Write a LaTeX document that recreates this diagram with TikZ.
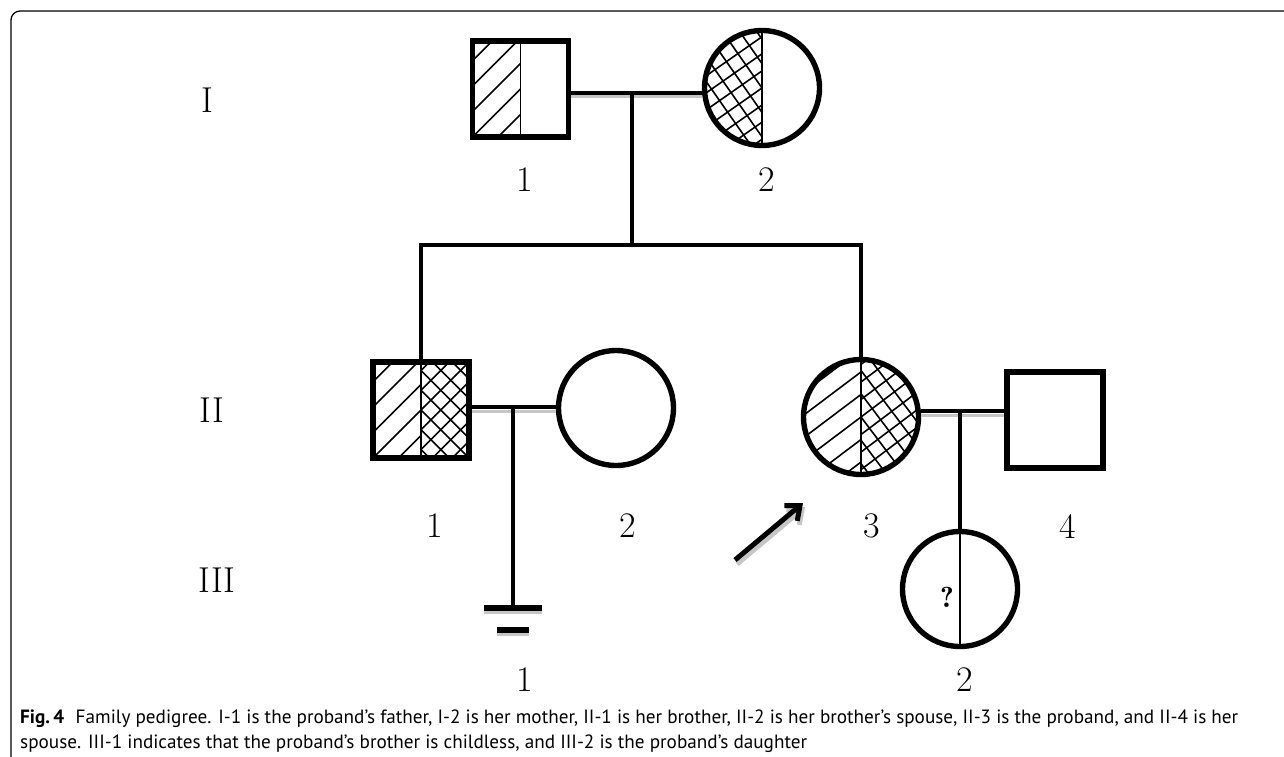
\documentclass[tikz,border=0pt]{standalone}
\usepackage{fontspec}
\newfontfamily\capfont{PT Sans}
\usetikzlibrary{calc,arrows.meta}

% hatch one half of a symbol: #1 = w (left) or e (right), #2 = angle, #3 = spacing
\newcommand{\halfhatch}[3]{%
  \begin{scope}
    \if#1w\clip (path picture bounding box.north west) rectangle (path picture bounding box.south);%
    \else\clip (path picture bounding box.north) rectangle (path picture bounding box.south east);\fi
    \foreach \k in {-12,...,12}{%
      \draw[hl] ($(path picture bounding box.center)+(#2+90:\k*#3)+(#2:-100)$) -- ++(#2:200);}
  \end{scope}}
\newcommand{\midline}{\draw[hl] (path picture bounding box.north) -- (path picture bounding box.south);}

\tikzset{
  hl/.style={line width=1.6pt, black},
  ped/.style={draw, line width=5.4pt, inner sep=0pt, fill=white},
  male/.style={ped, rectangle, minimum size=96pt},
  female/.style={ped, circle, minimum size=115pt},
  splitonly/.style={path picture={\midline}},
  halfdiag/.style={path picture={\halfhatch{w}{-45}{18}\midline}},
  halfcross/.style={path picture={\halfhatch{w}{-35}{14}\halfhatch{w}{55}{14}\midline}},
  diagcross/.style={path picture={\halfhatch{w}{-45}{18}\halfhatch{e}{-45}{14}\halfhatch{e}{45}{14}\midline}},
  diagcrossround/.style={path picture={\halfhatch{w}{-37}{18}\halfhatch{e}{-37}{14}\halfhatch{e}{53}{14}\midline}},
  link/.style={line width=4.6pt},
  shade/.style={line width=3pt, gray!45},
  num/.style={font=\fontsize{36}{36}\selectfont, inner sep=0pt},
  frame/.style={line width=1.3pt, rounded corners=9pt},
  captext/.style={anchor=base west, inner sep=0pt, font=\capfont\fontsize{19.2}{19.2}\selectfont},
}

\begin{document}
\begin{tikzpicture}[x=1pt,y=-1pt]
\useasboundingbox (0,0) rectangle (1284,757);

% panel frame
\draw[frame] (11,757) -- (11,11) -- (1284,11);

% generation labels
\node[num] (gI)   at (207,100) {I};
\node[num] (gII)  at (212,410) {II};
\node[num] (gIII) at (217,580) {III};

% generation I
\node[male, halfdiag]    (I1) at (520.5,89) {};
\node[female, halfcross] (I2) at (762,88) {};
\node[num] (lI1) at (525,180) {1};
\node[num] (lI2) at (767,180) {2};

% generation II
\node[male, diagcross]        (II1) at (421,410) {};
\node[female]                 (II2) at (616,408) {};
\node[female, diagcrossround] (II3) at (861,417) {};
\node[male]                   (II4) at (1055,420) {};
\node[num] (lII1) at (435,526) {1};
\node[num] (lII2) at (628,526) {2};
\node[num] (lII3) at (872,526) {3};
\node[num] (lII4) at (1068,526) {4};

% generation III
\node[female, splitonly] (III2) at (960,589) {};
\node[font=\fontseries{b}\fontsize{29}{29}\selectfont, inner sep=0pt] (q) at ($(III2.center)+(-13,8)$) {?};
\node[num] (lIII1) at (525,680) {1};
\node[num] (lIII2) at (965,680) {2};

% mating and descent points
\coordinate (m1) at (632,93);
\coordinate (s1) at (632,245);
\coordinate (m2) at (513,407);
\coordinate (c1) at (513,608);
\coordinate (m3) at (III2.north |- 0,411);

% couple lines with their soft shadows
\draw[shade] ($(I1.east |- m1)+(0,4)$) -- ($(I2.west |- m1)+(0,4)$);
\draw[link]  (I1.east |- m1) -- (I2.west |- m1);
\draw[shade] ($(II1.east |- m2)+(0,4)$) -- ($(II2.west |- m2)+(0,4)$);
\draw[link]  (II1.east |- m2) -- (II2.west |- m2);
\draw[shade] ($(II3.east |- m3)+(0,4)$) -- ($(II4.west |- m3)+(0,4)$);
\draw[link]  (II3.east |- m3) -- (II4.west |- m3);

% descent and sibship lines
\draw[link] (m1) -- (s1);
\draw[link] (II1.north) -- (II1.north |- s1) -- (II3.north |- s1) -- (II3.north);
\draw[link] (m2) -- (c1);
\draw[link] (m3) -- (III2.north);

% no offspring mark
\draw[shade, line width=4pt] ($(c1)+(-29,4)$) -- ($(c1)+(29,4)$);
\draw[shade, line width=4pt] ($(c1)+(-16,26)$) -- ($(c1)+(16,26)$);
\draw[line width=5.5pt] ($(c1)+(-29,0)$) -- ($(c1)+(29,0)$);
\draw[line width=5.5pt] ($(c1)+(-16,22)$) -- ($(c1)+(16,22)$);

% proband arrow
\coordinate (atail) at (735,560);
\coordinate (ahead) at (803,503);
\draw[gray!45, line width=5pt, -{Straight Barb[length=12pt,width=20pt]}] ($(atail)+(2,4)$) -- ($(ahead)+(2,4)$);
\draw[line width=5pt, -{Straight Barb[length=12pt,width=20pt]}] (atail) -- (ahead);

% caption
\node[captext] (cap1) at (20,723)
  {\textbf{Fig.\,4}\hspace{0.6em}Family pedigree. I-1 is the proband’s father, I-2 is her mother, II-1 is her brother, II-2 is her brother’s spouse, II-3 is the proband, and II-4 is her};
\node[captext] (cap2) at (20,748)
  {spouse. III-1 indicates that the proband’s brother is childless, and III-2 is the proband’s daughter};
\end{tikzpicture}
\end{document}
